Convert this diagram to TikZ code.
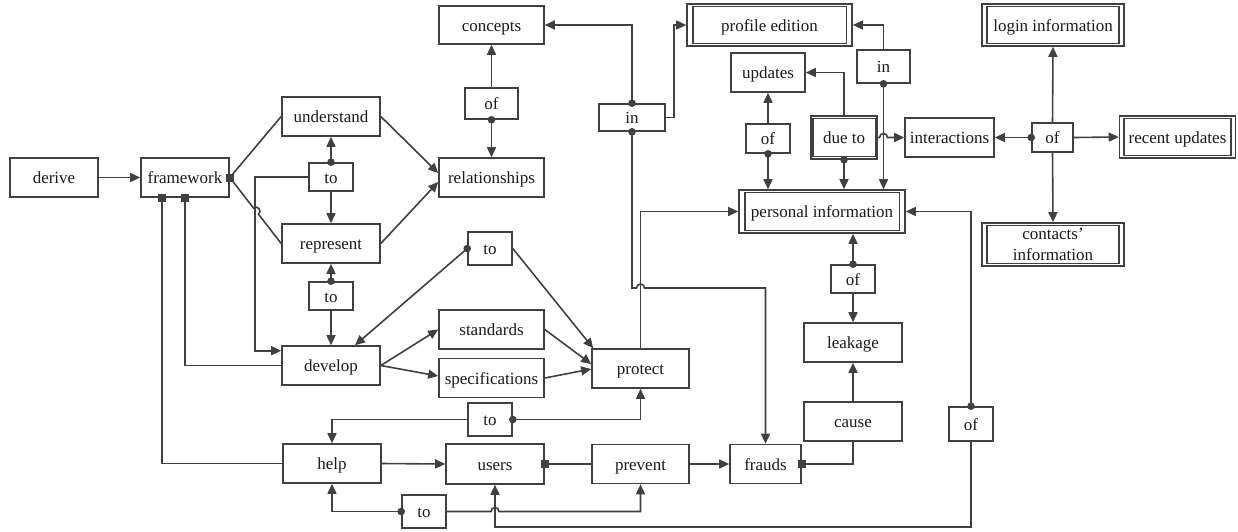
\documentclass[tikz,border=0pt]{standalone}
\usepackage{fontspec}
\setmainfont{Liberation Serif}
\usetikzlibrary{arrows.meta,calc}
\definecolor{lc}{HTML}{404040}
\definecolor{tc}{HTML}{1A1A1A}
\begin{document}
\begin{tikzpicture}[x=1pt,y=-1pt,
  frame/.style={draw=lc, line width=1.6pt, fill=white, inner sep=0pt, text=tc,
                font=\fontsize{17pt}{21pt}\selectfont},
  box/.style={frame, text height=14pt, text depth=2pt},
  box2/.style={frame, align=center},
  sz/.style 2 args={minimum width=#1pt, minimum height=#2pt},
  ln/.style={draw=lc, line width=1.6pt},
  arr/.style={ln, -{Triangle[length=10pt,width=9pt]}},
  dot/.style={fill=lc},
  sqr/.style={fill=lc}]
\useasboundingbox[fill=white] (0,0) rectangle (1238,531);

% ---- left part
\node[box,sz={88}{39}]  (derive)     at (54,177.5)  {derive};
\node[box,sz={88}{39}]  (framework)  at (185,177.5) {framework};
\node[box,sz={98}{39}]  (understand) at (331,116.5) {understand};
\node[box,sz={44}{28}]  (to1)        at (331,177)   {to};
\node[box,sz={98}{39}]  (represent)  at (331,243.5) {represent};
\node[box,sz={44}{28}]  (to2)        at (331,296)   {to};
\node[box,sz={98}{39}]  (develop)    at (331,365.5) {develop};
\node[box,sz={98}{39}]  (help)       at (332,463.5) {help};

% ---- middle part
\node[box,sz={105}{38}] (concepts)       at (491.5,25)    {concepts};
\node[box,sz={53}{31}]  (ofc)            at (491.5,103.5) {of};
\node[box,sz={105}{39}] (relationships)  at (491.5,177.5) {relationships};
\node[box,sz={44}{33}]  (to3)            at (490,248.5)   {to};
\node[box,sz={105}{39}] (standards)      at (491.5,329.5) {standards};
\node[box,sz={105}{39}] (specifications) at (491.5,378)   {specifications};
\node[box,sz={97}{39}]  (protect)        at (640.5,368.5) {protect};
\node[box,sz={44}{33}]  (to4)            at (490,419.5)   {to};
\node[box,sz={98}{40}]  (users)          at (495,464)     {users};
\node[box,sz={44}{33}]  (to5)            at (424,511.5)   {to};
\node[box,sz={97}{39}]  (prevent)        at (640.5,464)   {prevent};
\node[box,sz={71}{39}]  (frauds)         at (765.5,464)   {frauds};
\node[box,sz={66}{27}]  (in1)            at (632,117.5)   {in};

% ---- right part
\node[box,sz={165}{42}] (profile)      at (769.5,25)   {profile edition};
\node[box,sz={74}{39}]  (updates)      at (768,72.5)   {updates};
\node[box,sz={44}{29}]  (ofu)          at (768,138.5)  {of};
\node[box,sz={66}{43}]  (dueto)        at (844,137.5)  {due to};
\node[box,sz={53}{33}]  (in2)          at (883.5,66.5) {in};
\node[box,sz={166}{43}] (personal)     at (822,211.5)  {personal information};
\node[box,sz={89}{39}]  (interactions) at (949.5,137.5) {interactions};
\node[box,sz={41}{29}]  (ofh)          at (1052.5,137.5) {of};
\node[box,sz={142}{42}] (login)        at (1053,25)    {login information};
\node[box,sz={116}{42}] (recent)       at (1177.5,137) {recent updates};
\node[box2,sz={142}{43}] (contacts)    at (1053,244.5) {contacts’\\information};
\node[box,sz={44}{28}]  (ofl)          at (853,279)    {of};
\node[box,sz={98}{39}]  (leakage)      at (853,342.5)  {leakage};
\node[box,sz={98}{39}]  (cause)        at (853,421.5)  {cause};
\node[box,sz={44}{34}]  (ofr)          at (971,424)    {of};

% inner frames of the double boxes
\foreach \n/\dx in {personal/6.5,profile/6.5,login/6,recent/5.5,contacts/6,dueto/2.5}
  \draw[ln] ($(\n.north west)+(\dx,3.3)$) rectangle ($(\n.south east)+(-\dx,-3.3)$);

% crossing points where a line hops over another
\coordinate (j2) at (640.5,288);
\coordinate (j3) at (495,511.5);
\coordinate (j4) at (883.5,137.5);

% ---- connectors, left part
\draw[arr] (derive.east) -- (framework.west);
\draw[ln]  (framework.east) -- (understand.west);
\draw[ln]  (framework.east) -- (253.5,208.0)
           arc[start angle=128.8,end angle=-51.2,radius=4pt] -- (represent.west);
\draw[arr] (understand.east) -- ([yshift=4.5pt]relationships.west);
\draw[arr] (represent.east) -- ([yshift=-4.5pt]relationships.west);
\draw[arr] (to1.north) -- (understand.south);
\draw[arr] (to1.south) -- (represent.north);
\draw[arr] (to1.west) -- ++(-53,0) |- ([yshift=14.8pt]develop.west);
\draw[arr] (to2.north) -- (represent.south);
\draw[arr] (to2.south) -- (develop.north);
\draw[ln]  ([xshift=-23pt]framework.south) |- (help.west);
\draw[ln]  (framework.south) |- (develop.west);
\draw[arr] (develop.east) -- (standards.west);
\draw[arr] (develop.east) -- ([yshift=2pt]specifications.west);

% ---- connectors, middle part
\draw[arr] (to3.west) -- ([xshift=24pt]develop.north);
\draw[arr] (to3.east) -- ([xshift=2pt]protect.north west);
\draw[arr] (standards.east) -- ([yshift=4.5pt]protect.west);
\draw[arr] (specifications.east) -- ([yshift=-0.5pt]protect.west);
\draw[arr] (ofc.north) -- (concepts.south);
\draw[arr] (ofc.south) -- (relationships.north);
\draw[arr] (in1.north) |- (concepts.east);
\draw[arr] (in1.east) -- ++(8,0) |- (profile.west);
\draw[arr] (in1.south) |- ([xshift=-4pt]j2)
           arc[start angle=180,end angle=0,radius=4pt] -| (frauds.north);
\draw[arr] (protect.north) |- (personal.west);
\draw[arr] (to4.east) -| (protect.south);
\draw[arr] (to4.west) -| (help.north);
\draw[arr] (help.east) -- (users.west);
\draw[ln]  (users.east) -- (prevent.west);
\draw[arr] (prevent.east) -- (frauds.west);
\draw[arr] (to5.west) -| (help.south);
\draw[arr] (to5.east) -- ([xshift=-4pt]j3)
           arc[start angle=180,end angle=0,radius=4pt] -| (prevent.south);

% ---- connectors, right part
\draw[ln]  (frauds.east) -| (cause.south);
\draw[arr] (cause.north) -- (leakage.south);
\draw[arr] (ofl.north) -- (ofl.north |- personal.south);
\draw[arr] (ofl.south) -- (leakage.north);
\draw[arr] (ofr.north) |- (personal.east);
\draw[arr] (ofr.south) -- ++(0,85) -| (users.south);
\draw[arr] (ofu.north) -- (updates.south);
\draw[arr] (ofu.south) -- (ofu.south |- personal.north);
\draw[arr] (dueto.south) -- (dueto.south |- personal.north);
\draw[arr] (dueto.north) |- (updates.east);
\draw[arr] (dueto.east) -- ([xshift=-4pt]j4)
           arc[start angle=180,end angle=0,radius=4pt] -- (interactions.west);
\draw[arr] (in2.south) -- (in2.south |- personal.north);
\draw[arr] (in2.north) |- (profile.east);
\draw[arr] (ofh.west) -- (interactions.east);
\draw[arr] (ofh.east) -- (recent.west);
\draw[arr] (ofh.north) -- (login.south);
\draw[arr] (ofh.south) -- (contacts.north);

% ---- start markers
\foreach \p in {to1.north,to2.north,to3.west,to4.east,to5.west,ofc.south,
                in1.north,in1.south,ofu.south,dueto.south,in2.south,
                ofh.west,ofl.north,ofr.north}
  \fill[dot] (\p) circle[radius=3.8pt];
\foreach \p in {framework.east,framework.south,users.east,frauds.east}
  \fill[sqr] ($(\p)+(-4,-4)$) rectangle ++(8,8);
\fill[sqr] ($([xshift=-23pt]framework.south)+(-4,-4)$) rectangle ++(8,8);
\end{tikzpicture}
\end{document}
